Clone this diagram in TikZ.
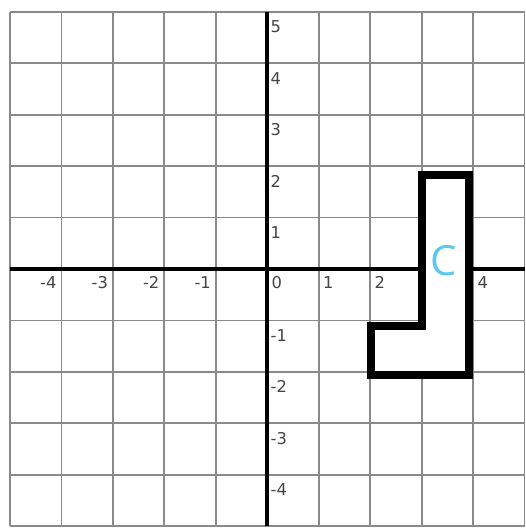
\documentclass[tikz,border=0pt]{standalone}
\usepackage{fontspec}
\setmainfont{DejaVu Sans}
\newfontfamily\labfont{Open Sans}
\definecolor{gridgray}{HTML}{8A8A8A}
\definecolor{labgray}{HTML}{444444}
\definecolor{cblue}{HTML}{5BC8F0}
\begin{document}
\begin{tikzpicture}[x=1cm,y=1cm,
  gridline/.style={draw=gridgray,line width=1pt},
  axisline/.style={draw=black,line width=2pt},
  shapeline/.style={draw=black,line width=4.4pt,fill=white,line join=miter},
  xlabneg/.style={anchor=north east,inner sep=0pt,font=\fontsize{9}{9}\selectfont,text=labgray},
  xlabpos/.style={anchor=north west,inner sep=0pt,font=\fontsize{9}{9}\selectfont,text=labgray},
  ylab/.style={anchor=west,inner sep=0pt,font=\fontsize{9}{9}\selectfont,text=labgray},
  biglab/.style={inner sep=0pt,font=\labfont\fontsize{23}{23}\selectfont,text=cblue}]
\useasboundingbox (-5.194,-5.092) rectangle (5.015,5.228);
\fill[white] (-5.194,-5.092) rectangle (5.015,5.228);
% grid
\foreach \i in {-5,...,5} {
  \draw[gridline] (\i,-5) -- (\i,5);
  \draw[gridline] (-5,\i) -- (5,\i);
}
% axes
\draw[axisline] (-5,0) -- (5,0);
\draw[axisline] (0,-5) -- (0,5);
% x labels
\foreach \i in {-4,-3,-2,-1} {
  \node[xlabneg] (xl\i) at (\i-0.09,-0.14) {\i};
}
\foreach \i in {0,1,2,4} {
  \node[xlabpos] (xl\i) at (\i+0.08,-0.14) {\i};
}
% y labels
\foreach \i in {5,4,3,2,1,-1,-2,-3,-4} {
  \node[ylab] (yl\i) at (0.06,\i-0.29) {\i};
}
% shape C
\draw[shapeline] (3.0,1.83) -- (3.93,1.83) -- (3.93,-2.06) -- (2.02,-2.06)
  -- (2.02,-1.1) -- (3.0,-1.1) -- cycle;
\node[biglab] (C) at (3.42,0.17) {C};
\end{tikzpicture}
\end{document}
